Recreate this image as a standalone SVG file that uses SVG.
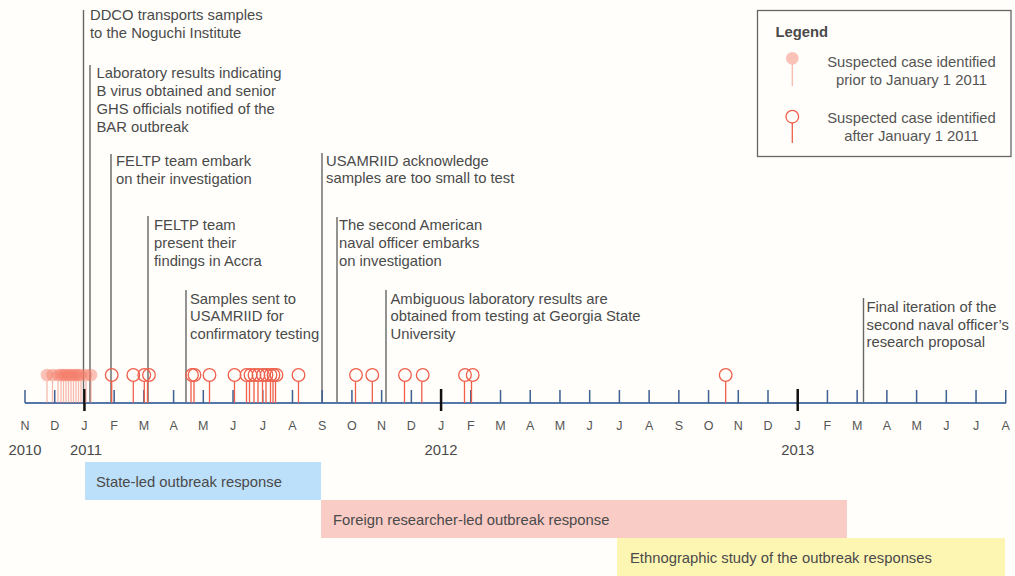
<svg xmlns="http://www.w3.org/2000/svg" width="1015" height="576" viewBox="0 0 1015 576">
<style>
text{font-family:"Liberation Sans",Arial,sans-serif;fill:#4a4a4a;font-size:14.8px}
.mo{font-size:12.5px;text-anchor:middle;fill:#555}
.yr{font-size:14.8px;text-anchor:middle}
.ev{stroke:#666;stroke-width:1.4;fill:none}
.tk{stroke:#3d5f92;stroke-width:1.5;fill:none}
.jt{stroke:#111;stroke-width:2.5;fill:none}
.ax{stroke:#5576a8;stroke-width:2;fill:none}
.pre{fill:#f47a66;fill-opacity:0.45;stroke:none}
.pres{stroke:#f28c7c;stroke-opacity:0.6;stroke-width:1.3;fill:none}
.post{fill:none;stroke:#ef5f4b;stroke-width:1.3}
.lg{text-anchor:middle;fill:#555}
</style>
<rect width="1015" height="576" fill="#fffefa"/>

<g id="bars">
<g id="bar-state"><rect x="85" y="462" width="236" height="38" fill="#bde0fa"/><text x="96" y="487">State-led outbreak response</text></g>
<g id="bar-foreign"><rect x="321" y="500" width="526" height="38" fill="#f9ccc6"/><text x="333" y="525">Foreign researcher-led outbreak response</text></g>
<g id="bar-ethno"><rect x="617" y="538" width="388" height="38" fill="#fdf6b3"/><text x="630" y="563">Ethnographic study of the outbreak responses</text></g>
</g>

<g id="connectors">
<path class="ev" d="M83.5 10V403M90 65V403M111 154V403M148 216V403M186 290V403M322 153V403M337 217V403M386 290V403M863.5 298V403"/>
</g>

<g id="axis">
<path class="ax" d="M25 403H1006"/>
<path class="tk" d="M25 390V403M54.72 390V403M114.16 390V403M143.88 390V403M173.6 390V403M203.32 390V403M233.04 390V403M262.76 390V403M292.48 390V403M322.2 390V403M351.92 390V403M381.64 390V403M411.36 390V403M470.8 390V403M500.52 390V403M530.24 390V403M559.96 390V403M589.68 390V403M619.4 390V403M649.12 390V403M678.84 390V403M708.56 390V403M738.28 390V403M768 390V403M827.44 390V403M857.16 390V403M886.88 390V403M916.6 390V403M946.32 390V403M976.04 390V403M1005.76 390V403"/>
<path class="jt" d="M84.44 389V411M441.08 389V411M797.72 389V411"/>
<g id="months">
<text class="mo" x="25" y="430">N</text><text class="mo" x="54.72" y="430">D</text><text class="mo" x="84.44" y="430">J</text><text class="mo" x="114.16" y="430">F</text><text class="mo" x="143.88" y="430">M</text><text class="mo" x="173.6" y="430">A</text><text class="mo" x="203.32" y="430">M</text><text class="mo" x="233.04" y="430">J</text><text class="mo" x="262.76" y="430">J</text><text class="mo" x="292.48" y="430">A</text><text class="mo" x="322.2" y="430">S</text><text class="mo" x="351.92" y="430">O</text><text class="mo" x="381.64" y="430">N</text><text class="mo" x="411.36" y="430">D</text><text class="mo" x="441.08" y="430">J</text><text class="mo" x="470.8" y="430">F</text><text class="mo" x="500.52" y="430">M</text><text class="mo" x="530.24" y="430">A</text><text class="mo" x="559.96" y="430">M</text><text class="mo" x="589.68" y="430">J</text><text class="mo" x="619.4" y="430">J</text><text class="mo" x="649.12" y="430">A</text><text class="mo" x="678.84" y="430">S</text><text class="mo" x="708.56" y="430">O</text><text class="mo" x="738.28" y="430">N</text><text class="mo" x="768" y="430">D</text><text class="mo" x="797.72" y="430">J</text><text class="mo" x="827.44" y="430">F</text><text class="mo" x="857.16" y="430">M</text><text class="mo" x="886.88" y="430">A</text><text class="mo" x="916.6" y="430">M</text><text class="mo" x="946.32" y="430">J</text><text class="mo" x="976.04" y="430">J</text><text class="mo" x="1005.76" y="430">A</text>
</g>
<g id="years">
<text class="yr" x="25" y="455">2010</text><text class="yr" x="86" y="455">2011</text><text class="yr" x="441" y="455">2012</text><text class="yr" x="797.7" y="455">2013</text>
</g>
</g>

<g id="cases-pre">
<path class="pres" d="M47 381V403M52.5 381V403M58 381V403M61 381V403M63.5 381V403M66 381V403M68.5 381V403M71 381V403M73.5 381V403M76 381V403M78.5 381V403M81 381V403M86 381V403M91 381V403"/>
<circle class="pre" cx="47" cy="375" r="6.3"/><circle class="pre" cx="52.5" cy="375" r="6.3"/><circle class="pre" cx="58" cy="375" r="6.3"/><circle class="pre" cx="61" cy="375" r="6.3"/><circle class="pre" cx="63.5" cy="375" r="6.3"/><circle class="pre" cx="66" cy="375" r="6.3"/><circle class="pre" cx="68.5" cy="375" r="6.3"/><circle class="pre" cx="71" cy="375" r="6.3"/><circle class="pre" cx="73.5" cy="375" r="6.3"/><circle class="pre" cx="76" cy="375" r="6.3"/><circle class="pre" cx="78.5" cy="375" r="6.3"/><circle class="pre" cx="81" cy="375" r="6.3"/><circle class="pre" cx="86" cy="375" r="6.3"/><circle class="pre" cx="91" cy="375" r="6.3"/>
</g>

<g id="cases-post">
<path class="post" d="M111.7 381.3V403M133.3 381.3V403M144.3 381.3V403M147.5 381.3V403M191 381.3V403M194 381.3V403M209.5 381.3V403M234.5 381.3V403M246.5 381.3V403M249.5 381.3V403M254 381.3V403M258 381.3V403M262.5 381.3V403M266 381.3V403M270.5 381.3V403M273 381.3V403M275.5 381.3V403M298.5 381.3V403M355.5 381.3V403M372.3 381.3V403M404.5 381.3V403M421.8 381.3V403M464.5 381.3V403M471.5 381.3V403M725.7 381.3V403"/>
<circle class="post" cx="111.7" cy="375" r="6.3"/><circle class="post" cx="133.3" cy="375" r="6.3"/><circle class="post" cx="144.3" cy="375" r="6.3"/><circle class="post" cx="149" cy="375" r="6.3"/><circle class="post" cx="192" cy="375" r="6.3"/><circle class="post" cx="194.5" cy="375" r="6.3"/><circle class="post" cx="209.5" cy="375" r="6.3"/><circle class="post" cx="234.5" cy="375" r="6.3"/><circle class="post" cx="246.5" cy="375" r="6.3"/><circle class="post" cx="250.5" cy="375" r="6.3"/><circle class="post" cx="254.5" cy="375" r="6.3"/><circle class="post" cx="258.5" cy="375" r="6.3"/><circle class="post" cx="263" cy="375" r="6.3"/><circle class="post" cx="266.5" cy="375" r="6.3"/><circle class="post" cx="270.5" cy="375" r="6.3"/><circle class="post" cx="273.5" cy="375" r="6.3"/><circle class="post" cx="276.5" cy="375" r="6.3"/><circle class="post" cx="298.5" cy="375" r="6.3"/><circle class="post" cx="356" cy="375" r="6.3"/><circle class="post" cx="372.3" cy="375" r="6.3"/><circle class="post" cx="405" cy="375" r="6.3"/><circle class="post" cx="422.7" cy="375" r="6.3"/><circle class="post" cx="465" cy="375" r="6.3"/><circle class="post" cx="472.7" cy="375" r="6.3"/><circle class="post" cx="725.7" cy="375" r="6.3"/>
</g>

<g id="ev-ddco"><text x="90" y="20">DDCO transports samples</text><text x="90" y="38">to the Noguchi Institute</text></g>
<g id="ev-lab"><text x="96.5" y="78">Laboratory results indicating</text><text x="96.5" y="96">B virus obtained and senior</text><text x="96.5" y="114">GHS officials notified of the</text><text x="96.5" y="131.5">BAR outbreak</text></g>
<g id="ev-feltp-embark"><text x="116" y="166">FELTP team embark</text><text x="116" y="183.5">on their investigation</text></g>
<g id="ev-feltp-present"><text x="154" y="230">FELTP team</text><text x="154" y="248">present their</text><text x="154" y="265.5">findings in Accra</text></g>
<g id="ev-samples"><text x="190" y="303.5">Samples sent to</text><text x="190" y="321">USAMRIID for</text><text x="190" y="338.5">confirmatory testing</text></g>
<g id="ev-usamriid"><text x="326" y="165.5">USAMRIID acknowledge</text><text x="326" y="183">samples are too small to test</text></g>
<g id="ev-naval"><text x="339" y="230">The second American</text><text x="339" y="248">naval officer embarks</text><text x="339" y="265.5">on investigation</text></g>
<g id="ev-ambiguous"><text x="390.5" y="303.5">Ambiguous laboratory results are</text><text x="390.5" y="321">obtained from testing at Georgia State</text><text x="390.5" y="338.5">University</text></g>
<g id="ev-final"><text x="866.5" y="312">Final iteration of the</text><text x="866.5" y="329.5">second naval officer’s</text><text x="866.5" y="347">research proposal</text></g>

<g id="legend">
<rect x="757.5" y="10.5" width="253.5" height="146" fill="none" stroke="#666" stroke-width="1.3"/>
<text x="775.5" y="37" font-weight="bold" font-size="14px">Legend</text>
<path class="pres" d="M792.3 64V86"/><circle class="pre" cx="792.3" cy="58.3" r="6.3"/>
<text class="lg" x="911.5" y="66.5">Suspected case identified</text><text class="lg" x="911.5" y="84.5">prior to January 1 2011</text>
<path class="post" d="M792.3 123V143"/><circle class="post" cx="792.3" cy="116.7" r="6.3"/>
<text class="lg" x="911.5" y="123">Suspected case identified</text><text class="lg" x="911.5" y="141">after January 1 2011</text>
</g>
</svg>
